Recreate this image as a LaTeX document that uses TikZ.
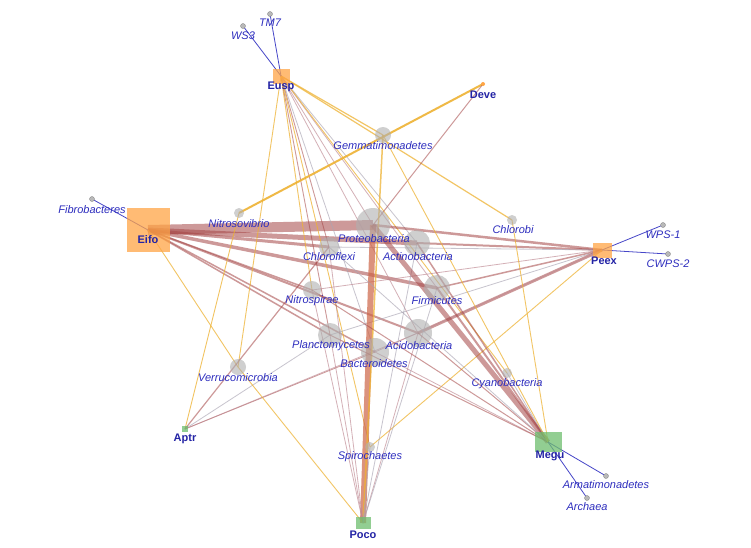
\documentclass[tikz,border=0pt]{standalone}
\usepackage{fontspec}
\setmainfont{Liberation Sans}
\pgfdeclarelayer{background}
\pgfsetlayers{background,main}
\definecolor{phgrey}{RGB}{175,175,175}
\definecolor{dotgrey}{RGB}{185,185,185}
\definecolor{sorange}{RGB}{255,165,70}
\definecolor{sgreen}{RGB}{110,190,110}
\definecolor{labblue}{RGB}{45,45,190}
\definecolor{sblue}{RGB}{35,35,165}
\definecolor{redE}{RGB}{165,70,70}
\definecolor{pinkE}{RGB}{190,135,145}
\definecolor{greyE}{RGB}{170,165,180}
\definecolor{yelE}{RGB}{238,178,50}
\definecolor{blueE}{RGB}{70,70,200}
\begin{document}
\begin{tikzpicture}[x=1pt,y=-1pt,
  ph/.style={circle,fill=phgrey,fill opacity=0.6,inner sep=0pt,draw=none},
  pdot/.style={circle,fill=dotgrey,draw=gray,line width=0.3pt,minimum size=5pt,inner sep=0pt},
  smp/.style={rectangle,fill=sorange,fill opacity=0.75,inner sep=0pt,draw=none},
  smpg/.style={rectangle,fill=sgreen,fill opacity=0.75,inner sep=0pt,draw=none},
  plab/.style={font=\fontsize{11}{12}\selectfont\itshape,text=labblue,inner sep=0pt},
  slab/.style={font=\fontsize{11}{12}\selectfont\bfseries,text=sblue,inner sep=0pt},
  er/.style={draw=redE,draw opacity=0.55},
  ep/.style={draw=pinkE,draw opacity=0.65,line width=0.8pt},
  eg/.style={draw=greyE,draw opacity=0.65,line width=0.8pt},
  ey/.style={draw=yelE,draw opacity=0.75,line width=0.9pt},
  eb/.style={draw=blueE,line width=0.8pt},
]
\useasboundingbox (0,0) rectangle (751,547);

% sample nodes
\node[smp,minimum width=43pt,minimum height=44pt] (eifo) at (148,230) {};
\node[smp,minimum width=17pt,minimum height=15pt] (eusp) at (281,76) {};
\node[circle,fill=sorange,inner sep=0pt,minimum size=4pt] (deve) at (483,84) {};
\node[smp,minimum width=19pt,minimum height=15pt] (peex) at (602,250) {};
\node[smpg,minimum width=6pt,minimum height=6pt] (aptr) at (185,429) {};
\node[smpg,minimum width=15pt,minimum height=12pt] (poco) at (363,523) {};
\node[smpg,minimum width=27pt,minimum height=20pt] (megu) at (548,442) {};

% phyla
\node[ph,minimum size=34pt] (prot) at (373,225) {};
\node[ph,minimum size=26pt] (acti) at (417,243) {};
\node[ph,minimum size=20pt] (chlo) at (329,247) {};
\node[ph,minimum size=18pt] (nitr) at (312,290) {};
\node[ph,minimum size=26pt] (firm) at (437,288) {};
\node[ph,minimum size=24pt] (plan) at (330,335) {};
\node[ph,minimum size=28pt] (acid) at (418,333) {};
\node[ph,minimum size=28pt] (bact) at (375,352) {};
\node[ph,minimum size=16pt] (gemm) at (383,135) {};
\node[ph,minimum size=10pt] (nsv) at (239,213) {};
\node[ph,minimum size=10pt] (chlb) at (512,220) {};
\node[ph,minimum size=16pt] (verr) at (238,367) {};
\node[ph,minimum size=10pt] (spir) at (370,447) {};
\node[ph,minimum size=10pt] (cyan) at (507,373) {};
\node[pdot] (ws3) at (243,26) {};
\node[pdot] (tm7) at (270,14) {};
\node[pdot] (fibr) at (92,199) {};
\node[pdot] (wps) at (663,225) {};
\node[pdot] (cwps) at (668,254) {};
\node[pdot] (arma) at (606,476) {};
\node[pdot] (arch) at (587,498) {};

\begin{pgfonlayer}{background}
\fill[white] (0,0) rectangle (751,547);
% Eifo
\draw[er,line width=10pt] (eifo.center) -- (prot.center);
\draw[er,line width=5pt] (eifo.center) -- (acti.center);
\draw[er,line width=3pt] (eifo.center) -- (chlo.center);
\draw[er,line width=3.5pt] (eifo.center) -- (firm.center);
\draw[er,line width=1.5pt] (eifo.center) -- (nitr.center);
\draw[er,line width=2pt] (eifo.center) -- (acid.center);
\draw[er,line width=1.5pt] (eifo.center) -- (plan.center);
\draw[er,line width=1.5pt] (eifo.center) -- (bact.center);
\draw[ey] (eifo.center) -- (verr.center);
\draw[eb] (eifo.center) -- (fibr.center);
% Eusp
\draw[ey] (eusp.center) -- (verr.center);
\draw[ey,line width=1.2pt] (eusp.center) -- (gemm.center);
\draw[ey,line width=1.2pt] (eusp.center) -- (chlb.center);
\draw[er,line width=0.9pt] (eusp.center) -- (chlo.center);
\draw[ey] (eusp.center) -- (nitr.center);
\draw[ep] (eusp.center) -- (prot.center);
\draw[er,line width=0.9pt] (eusp.center) -- (plan.center);
\draw[eg] (eusp.center) -- (bact.center);
\draw[eg] (eusp.center) -- (acti.center);
\draw[ep] (eusp.center) -- (firm.center);
\draw[ep] (eusp.center) -- (acid.center);
\draw[ey] (eusp.center) -- (spir.center);
\draw[ey] (eusp.center) -- (cyan.center);
\draw[eb] (eusp.center) -- (ws3.center);
\draw[eb] (eusp.center) -- (tm7.center);
% Deve
\draw[ey,line width=2pt,draw opacity=0.9] (deve.center) -- (nsv.center);
\draw[er,line width=1pt] (deve.center) -- (prot.center);
% Peex
\draw[er,line width=2.5pt] (peex.center) -- (prot.center);
\draw[er,line width=2pt] (peex.center) -- (acti.center);
\draw[eg] (peex.center) -- (chlo.center);
\draw[ep] (peex.center) -- (nitr.center);
\draw[er,line width=1.5pt] (peex.center) -- (firm.center);
\draw[eg] (peex.center) -- (plan.center);
\draw[er,line width=3pt] (peex.center) -- (acid.center);
\draw[ep] (peex.center) -- (bact.center);
\draw[ey] (peex.center) -- (spir.center);
\draw[eb] (peex.center) -- (wps.center);
\draw[eb] (peex.center) -- (cwps.center);
% Aptr
\draw[ey] (aptr.center) -- (nsv.center);
\draw[er,line width=1.2pt] (aptr.center) -- (chlo.center);
\draw[eg] (aptr.center) -- (plan.center);
\draw[er,line width=0.8pt] (aptr.center) -- (bact.center);
\draw[ep] (aptr.center) -- (acid.center);
% Poco
\draw[draw={rgb,255:red,205;green,100;blue,70},draw opacity=0.7,line width=6pt] (poco.center) -- (prot.center);
\draw[ey,line width=1.5pt] (poco.center) -- (gemm.center);
\draw[ey] (poco.center) -- (verr.center);
\draw[eg] (poco.center) -- (spir.center);
\draw[ep] (poco.center) -- (plan.center);
\draw[ep] (poco.center) -- (chlo.center);
\draw[ep] (poco.center) -- (nitr.center);
\draw[ep] (poco.center) -- (acid.center);
\draw[eg] (poco.center) -- (firm.center);
\draw[eg] (poco.center) -- (acti.center);
% Megu
\draw[er,line width=5pt] (megu.center) -- (prot.center);
\draw[er,line width=2pt] (megu.center) -- (firm.center);
\draw[er,line width=1.5pt] (megu.center) -- (acti.center);
\draw[er,line width=1pt] (megu.center) -- (acid.center);
\draw[ep] (megu.center) -- (bact.center);
\draw[er,line width=1pt] (megu.center) -- (plan.center);
\draw[er,line width=1pt] (megu.center) -- (nitr.center);
\draw[eg] (megu.center) -- (chlo.center);
\draw[eg] (megu.center) -- (cyan.center);
\draw[ey] (megu.center) -- (chlb.center);
\draw[ey] (megu.center) -- (gemm.center);
\draw[eb] (megu.center) -- (arma.center);
\draw[eb] (megu.center) -- (arch.center);
\end{pgfonlayer}

% labels
\node[slab] (eifo-l) at (148,240) {Eifo};
\node[slab] (eusp-l) at (281,87) {Eusp};
\node[slab] (deve-l) at (483,95) {Deve};
\node[slab] (peex-l) at (604,261) {Peex};
\node[slab] (aptr-l) at (185,439) {Aptr};
\node[slab] (poco-l) at (363,535) {Poco};
\node[slab] (megu-l) at (550,456) {Megu};
\node[plab] (prot-l) at (374,239) {Proteobacteria};
\node[plab] (acti-l) at (418,257) {Actinobacteria};
\node[plab] (chlo-l) at (329,257) {Chloroflexi};
\node[plab] (nitr-l) at (312,301) {Nitrospirae};
\node[plab] (firm-l) at (437,301) {Firmicutes};
\node[plab] (plan-l) at (331,346) {Planctomycetes};
\node[plab] (acid-l) at (419,346) {Acidobacteria};
\node[plab] (bact-l) at (374,364) {Bacteroidetes};
\node[plab] (gemm-l) at (383,146) {Gemmatimonadetes};
\node[plab] (nsv-l) at (239,224) {Nitrosovibrio};
\node[plab] (chlb-l) at (513,230) {Chlorobi};
\node[plab] (verr-l) at (238,378) {Verrucomicrobia};
\node[plab] (spir-l) at (370,457) {Spirochaetes};
\node[plab] (cyan-l) at (507,384) {Cyanobacteria};
\node[plab] (ws3-l) at (243,36) {WS3};
\node[plab] (tm7-l) at (270,23) {TM7};
\node[plab] (fibr-l) at (92,210) {Fibrobacteres};
\node[plab] (wps-l) at (663,235) {WPS-1};
\node[plab] (cwps-l) at (668,264) {CWPS-2};
\node[plab] (arma-l) at (606,485) {Armatimonadetes};
\node[plab] (arch-l) at (587,507) {Archaea};
\end{tikzpicture}
\end{document}
